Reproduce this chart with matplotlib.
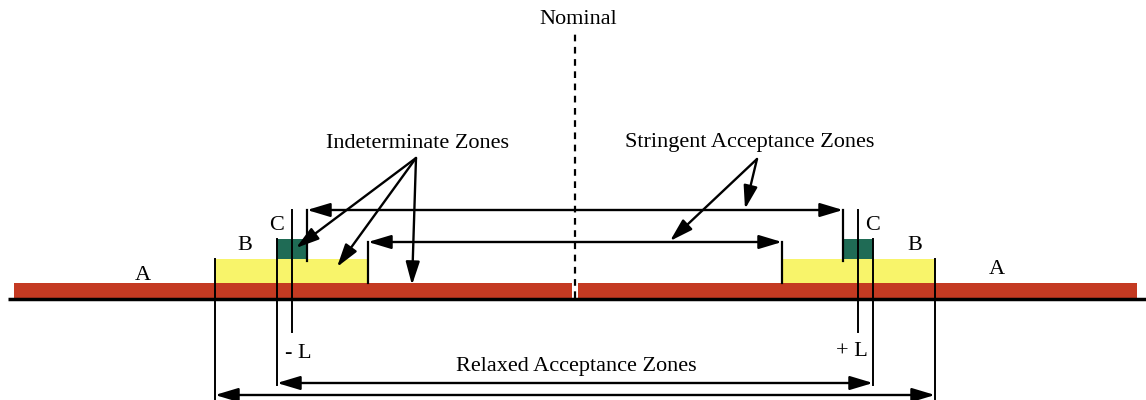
import matplotlib.pyplot as plt
from matplotlib.patches import Rectangle

# zone boundaries, measured from the nominal value (symmetric about 0)
nominal = 0
spec_limit = 283          # -L / +L
relaxed_edge = 360        # outer edge of the B zones
indeterminate_edge = 298  # outer edge of the C zones
stringent_edge = 268      # inner edge of the C zones
b_inner = 207             # inner edge of the yellow B zones
bar_ends = [-561, 562]

# bar heights
red_h = 15
yellow_h = 39
green_h = 59

red = '#c43a22'
yellow = '#f8f46a'
green = '#1f6b55'

plt.rcParams['font.family'] = ['Liberation Serif', 'DejaVu Serif']
fs = 16

fig = plt.figure(figsize=(11.46, 4.0), dpi=100)
ax = fig.add_axes([0, 0, 1, 1])
ax.set_xlim(-575, 571)
ax.set_ylim(-102, 298)
ax.axis('off')

# red band (A zones), split at the nominal
gap = 3
ax.add_patch(Rectangle((bar_ends[0], 0), nominal - gap - bar_ends[0], red_h, color=red, lw=0))
ax.add_patch(Rectangle((nominal + gap, 0), bar_ends[1] - nominal - gap, red_h, color=red, lw=0))

# yellow (B) and green (C) blocks
for s in (-1, 1):
    x0, x1 = sorted([s * b_inner, s * relaxed_edge])
    ax.add_patch(Rectangle((x0, red_h), x1 - x0, yellow_h - red_h, color=yellow, lw=0))
    x0, x1 = sorted([s * stringent_edge, s * indeterminate_edge])
    ax.add_patch(Rectangle((x0, yellow_h), x1 - x0, green_h - yellow_h, color=green, lw=0))

# base line
ax.plot([-567, 571], [-1, -1], color='black', lw=2.5, solid_capstyle='butt')

# nominal dashed line
ax.plot([nominal, nominal], [0, 265], color='black', lw=1.6, ls=(0, (3, 2.5)))

# vertical boundary lines
top_arrow = 88
mid_arrow = 56
inner_low = -85
outer_low = -97
for s in (-1, 1):
    ax.plot([s * relaxed_edge] * 2, [yellow_h, outer_low - 4], color='black', lw=1.4)
    ax.plot([s * indeterminate_edge] * 2, [green_h, inner_low - 2], color='black', lw=1.4)
    ax.plot([s * spec_limit] * 2, [top_arrow, -34], color='black', lw=1.4)
    ax.plot([s * stringent_edge] * 2, [top_arrow, yellow_h - 2], color='black', lw=1.6)
    ax.plot([s * b_inner] * 2, [mid_arrow, red_h], color='black', lw=1.6)

dbl = dict(arrowstyle='<|-|>,head_length=1.0,head_width=0.3', color='black',
           lw=1.7, shrinkA=0, shrinkB=0, mutation_scale=14)
one = dict(arrowstyle='-|>,head_length=1.0,head_width=0.3', color='black',
           lw=1.7, shrinkA=0, shrinkB=0, mutation_scale=14)

ax.annotate('', xy=(stringent_edge, top_arrow), xytext=(-stringent_edge, top_arrow), arrowprops=dbl)
ax.annotate('', xy=(b_inner, mid_arrow), xytext=(-b_inner, mid_arrow), arrowprops=dbl)
ax.annotate('', xy=(indeterminate_edge, inner_low), xytext=(-indeterminate_edge, inner_low), arrowprops=dbl)
ax.annotate('', xy=(relaxed_edge, outer_low), xytext=(-relaxed_edge, outer_low), arrowprops=dbl)

# pointer arrows
ind_apex = (-159, 140)
for target in [(-279, 50), (-238, 31), (-163, red_h - 2)]:
    ax.annotate('', xy=target, xytext=ind_apex, arrowprops=one)
str_apex = (182, 139)
for target in [(170, top_arrow + 1), (95, mid_arrow + 1)]:
    ax.annotate('', xy=target, xytext=str_apex, arrowprops=one)

# labels
ax.text(3, 278, 'Nominal', ha='center', va='center', fontsize=fs)
ax.text(-157, 155, 'Indeterminate Zones', ha='center', va='center', fontsize=fs)
ax.text(175, 155, 'Stringent Acceptance Zones', ha='center', va='center', fontsize=fs)
ax.text(-432, 23, 'A', ha='center', va='center', fontsize=fs)
ax.text(422, 28, 'A', ha='center', va='center', fontsize=fs)
ax.text(-330, 52, 'B', ha='center', va='center', fontsize=fs)
ax.text(340, 52, 'B', ha='center', va='center', fontsize=fs)
ax.text(-298, 72, 'C', ha='center', va='center', fontsize=fs)
ax.text(298, 72, 'C', ha='center', va='center', fontsize=fs)
ax.text(-277, -56, '- L', ha='center', va='center', fontsize=fs)
ax.text(277, -53, '+ L', ha='center', va='center', fontsize=fs)
ax.text(1, -69, 'Relaxed Acceptance Zones', ha='center', va='center', fontsize=fs)

fig.savefig('out.png', dpi=100)
